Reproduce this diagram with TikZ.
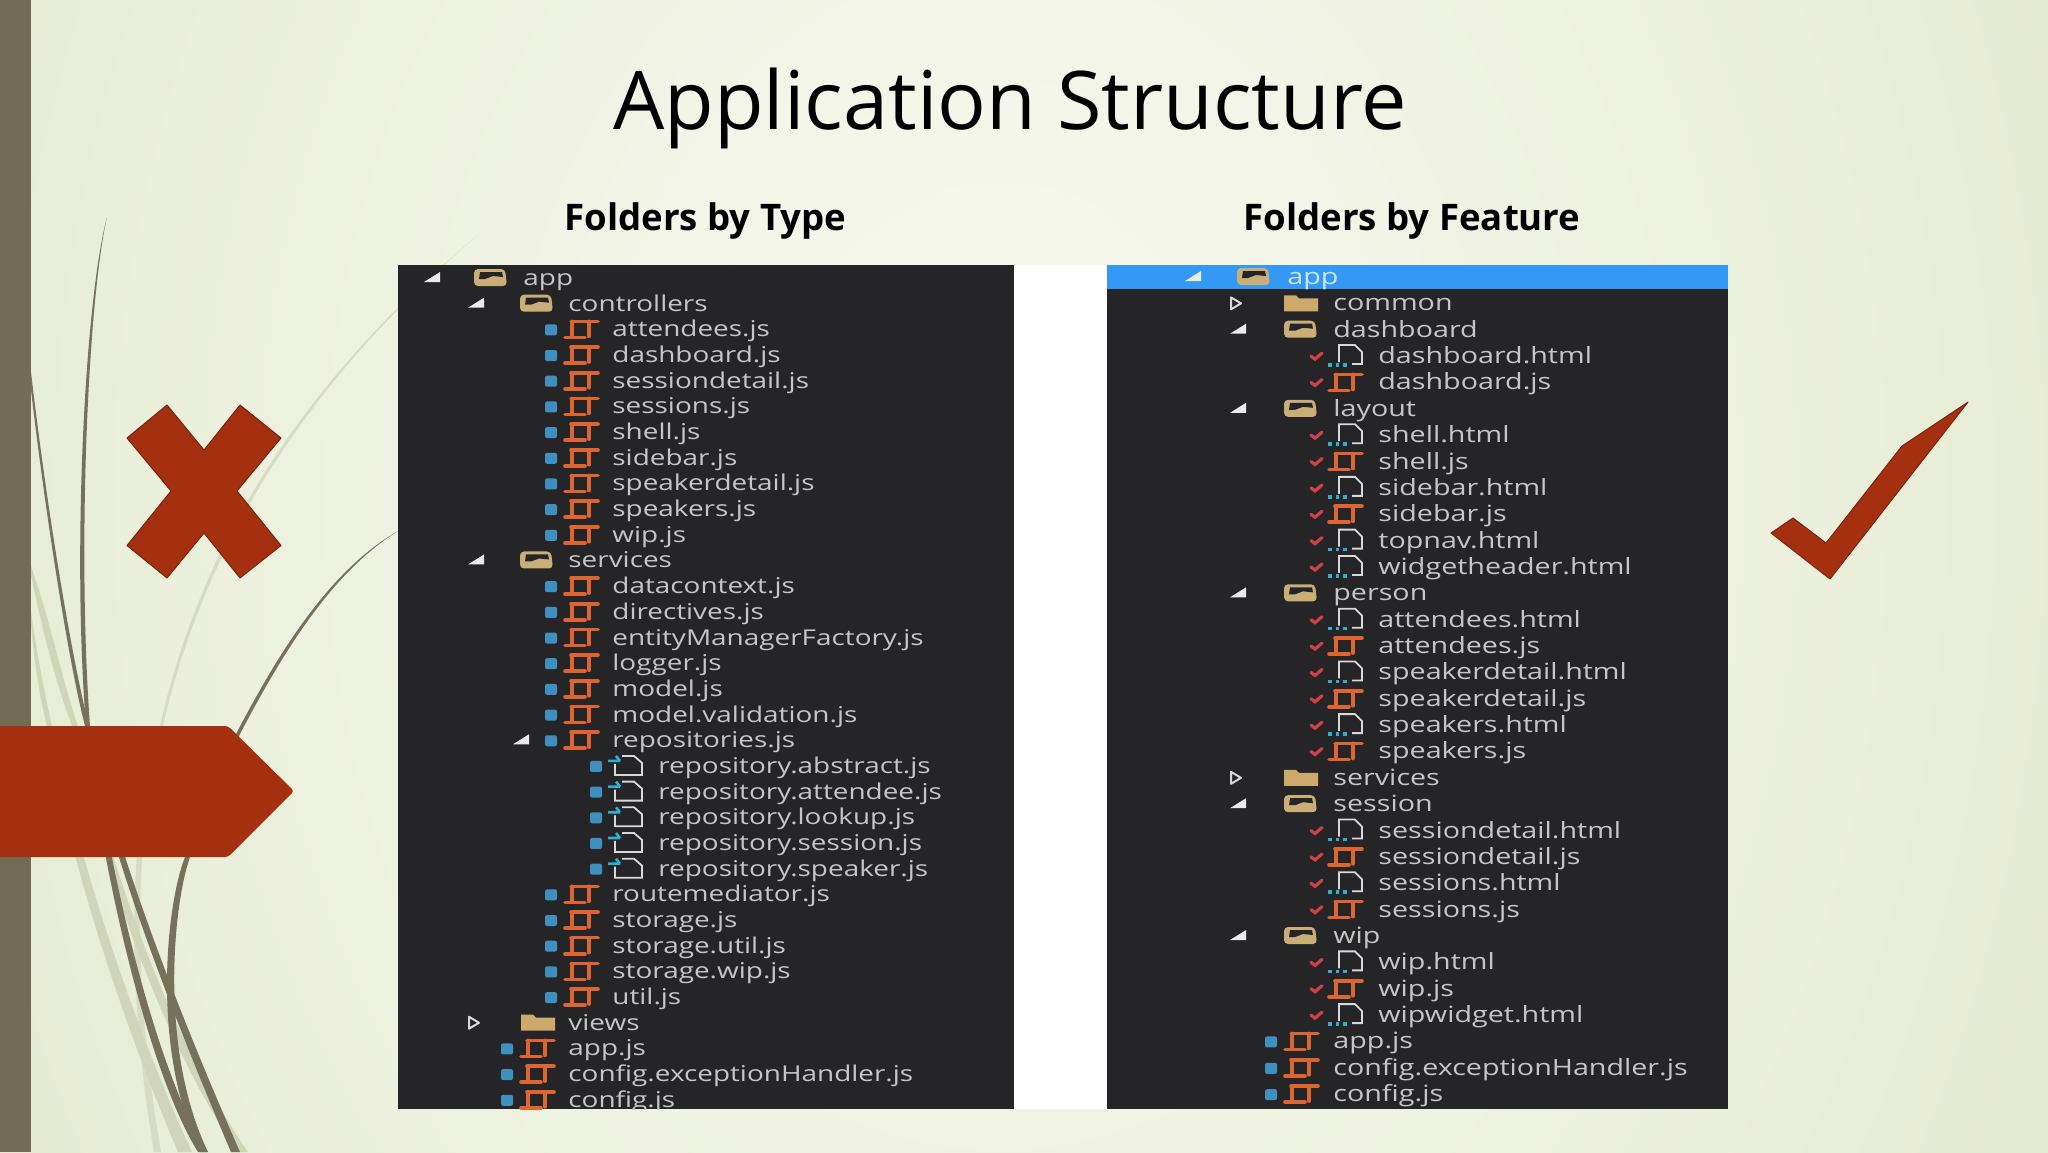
\documentclass[tikz,border=0pt]{standalone}
\usepackage{fontspec}
\setmainfont{Open Sans}
\newfontfamily\uifont[FakeStretch=1.28]{Open Sans}
\definecolor{rust}{HTML}{A53010}
\definecolor{rustdk}{HTML}{7A2410}
\definecolor{stripc}{HTML}{736C54}
\definecolor{grassd}{HTML}{767159}
\definecolor{grassl}{HTML}{D0D5B8}
\definecolor{grassf}{HTML}{D6DBC2}
\definecolor{panelc}{HTML}{252528}
\definecolor{bluebar}{HTML}{3399F5}
\definecolor{uitxt}{HTML}{C6C6C6}
\definecolor{jsor}{HTML}{DD6530}
\definecolor{tanc}{HTML}{C9AE78}
\definecolor{lockb}{HTML}{3F8FBF}
\definecolor{chk}{HTML}{D0404A}
\definecolor{bgz}{HTML}{F8FAF2}
\definecolor{bgy}{HTML}{F4F6EA}
\definecolor{bga}{HTML}{EDF1DF}
\definecolor{bgb}{HTML}{E5EBD0}
\definecolor{bgc}{HTML}{DFE6C4}
\pgfdeclareradialshading{bgshade}{\pgfpoint{0bp}{0bp}}{
 color(0bp)=(bgz);
 color(3.5bp)=(bgy);
 color(9bp)=(bga);
 color(14bp)=(bgb);
 color(19.5bp)=(bgc);
 color(50bp)=(bgc)}
\tikzset{
 uitext/.style={text=uitxt,anchor=base west,inner sep=0pt,font=\uifont\fontsize{10.9}{12}\selectfont},
 uiright/.style={text=uitxt,anchor=base west,inner sep=0pt,font=\uifont\fontsize{11.2}{12}\selectfont},
 hdr/.style={text=black,anchor=base west,inner sep=0pt,font=\bfseries\fontsize{18.3}{22}\selectfont},
 ttl/.style={text=black,anchor=base west,inner sep=0pt,font=\fontsize{40.5}{50}\selectfont},
 emblem/.style={fill=rust,draw=rustdk,line width=.5pt,line join=round}
}
\newcommand\jsico[2]{\begin{scope}[shift={(#1,#2)}]
 \draw[jsor,line width=1.8pt,line cap=round,line join=round] (-10,-8) -- (17,-8) (-9,-8) -- (-9,7) (8,-8) -- (8,7) (-16,8) -- (4,8);
 \end{scope}}
\newcommand\lockico[2]{\fill[lockb,rounded corners=1] (#1-6,#2-5) rectangle (#1+6,#2+6);}
\newcommand\openfold[2]{\begin{scope}[shift={(#1,#2)}]
 \fill[tanc,rounded corners=2] (-17,-9) -- (14,-9) -- (16,8) -- (-17,8) -- cycle;
 \fill[panelc] (-11,-6) -- (11,-6) -- (12,-1) -- (2,-2) -- (-6,1) -- (-12,1) -- cycle;
 \end{scope}}
\newcommand\shutfold[2]{\begin{scope}[shift={(#1,#2)}]
 \fill[tanc!90!orange] (-17,-8) -- (-5,-8) -- (-2,-5) -- (17,-5) -- (17,8) -- (-17,8) -- cycle;
 \end{scope}}
\newcommand\triopen[2]{\fill[white!92!black] (#1+8,#2-6) -- (#1+8,#2+4) -- (#1-8,#2+4) -- cycle;}
\newcommand\trishut[2]{\draw[white!85!black,line width=1pt,line join=round] (#1-5,#2-6) -- (#1+5,#2) -- (#1-5,#2+6) -- cycle;}
\newcommand\htmlico[2]{\begin{scope}[shift={(#1,#2)}]
 \draw[white!85!black,line width=.9pt] (-7,6) -- (-7,-11) -- (9,-11) -- (16,-4) -- (16,8) -- (6,8);
 \draw[lockb!70!cyan,line width=1.8pt,dotted] (-18,9) -- (2,9);
 \end{scope}}
\newcommand\chkico[2]{\draw[chk,line width=1.6pt,line cap=round] (#1-6,#2) -- (#1-2,#2+3) -- (#1+5,#2-3);}
\newcommand\repoico[2]{\begin{scope}[shift={(#1,#2)}]
 \draw[white!85!black,line width=.9pt] (-11,-2) -- (-11,9) -- (16,9) -- (16,-3) -- (8,-10) -- (-4,-10);
 \draw[lockb!70!cyan,line width=1.3pt] (-18,-5) -- (-6,-5) (-10,-10) -- (-6,-5);
 \end{scope}}
\begin{document}
\begin{tikzpicture}[x=.5pt,y=-.5pt]
\useasboundingbox (0,0) rectangle (2048,1152);
% background
\fill[bgc] (0,0) rectangle (2048,1152);
\begin{scope}
\clip (0,0) rectangle (2048,1152);
\shade[shading=bgshade] (1000,500) ellipse [x radius=2000,y radius=2600];
\end{scope}
% grass, light blades
\fill[grassf] (478,235) .. controls (370,325) and (215,480) .. (160,726) .. controls (135,800) and (120,950) .. (154,1152) -- (161,1152) .. controls (126,950) and (141,800) .. (163,726) .. controls (219,482) and (372,326) .. (478,235) -- cycle;
\fill[grassl] (31,576) .. controls (45,640) and (55,680) .. (72,726) .. controls (100,860) and (160,1040) .. (238,1152) -- (248,1152) .. controls (168,1036) and (108,860) .. (78,726) .. controls (62,680) and (50,620) .. (31,566) -- cycle;
\fill[grassl] (31,625) .. controls (34,660) and (40,700) .. (47,726) .. controls (70,870) and (130,1040) .. (178,1152) -- (192,1152) .. controls (140,1040) and (80,870) .. (52,726) .. controls (46,700) and (38,660) .. (31,612) -- cycle;
% grass, dark blades
\fill[grassd] (107,217) .. controls (85,300) and (72,550) .. (86,726) .. controls (103,880) and (150,1075) .. (198,1152) -- (207,1152) .. controls (157,1072) and (110,880) .. (90,726) .. controls (77,550) and (88,300) .. (107,217) -- cycle;
\fill[grassd] (31,390) .. controls (45,510) and (68,660) .. (85,726) .. controls (106,840) and (166,1000) .. (231,1152) -- (240,1152) .. controls (173,1000) and (113,840) .. (89,726) .. controls (72,660) and (47,510) .. (31,372) -- cycle;
\fill[grassd] (398,531) .. controls (330,570) and (280,650) .. (236,734) .. controls (215,780) and (198,820) .. (185,857) .. controls (166,905) and (151,1050) .. (200,1152) -- (208,1152) .. controls (159,1050) and (173,905) .. (190,857) .. controls (203,820) and (219,780) .. (240,734) .. controls (283,652) and (332,572) .. (398,531) -- cycle;
% strip
\fill[stripc] (0,0) rectangle (31,1152);
% title
\node[ttl] (title) at (613,129) {Application Structure};
\node[hdr] (hA) at (564,230) {Folders by Type};
\node[hdr] (hB) at (1243,230) {Folders by Feature};
% panels
\fill[white] (1014,265) rectangle (1107,1109);
\fill[panelc] (398,265) rectangle (1014,1109);
\fill[panelc] (1107,265) rectangle (1728,1109);
\fill[bluebar] (1107,265) rectangle (1728,289);
% left tree
\begin{scope}
\clip (398,265) rectangle (1014,1109);
\pgfmathsetmacro\yy{278}
\triopen{432}{\yy}\openfold{491}{\yy}\node[uitext] (la) at (523,\yy+7.5) {app};
\foreach \rw/\tx in {1/controllers,11/services}{
 \pgfmathsetmacro\yy{278+25.68*\rw}
 \triopen{476}{\yy}\openfold{537}{\yy}\node[uitext] (l\rw) at (568,\yy+7.5) {\tx};}
\pgfmathsetmacro\yy{278+25.68*29}
\trishut{474}{\yy}\shutfold{538}{\yy}\node[uitext] (l29) at (568,\yy+7.5) {views};
\foreach \rw/\tx in {2/attendees.js,3/dashboard.js,4/sessiondetail.js,5/sessions.js,6/shell.js,7/sidebar.js,8/speakerdetail.js,9/speakers.js,10/wip.js,12/datacontext.js,13/directives.js,14/entityManagerFactory.js,15/logger.js,16/model.js,17/model.validation.js,18/repositories.js,24/routemediator.js,25/storage.js,26/storage.util.js,27/storage.wip.js,28/util.js}{
 \pgfmathsetmacro\yy{278+25.68*\rw}
 \lockico{551}{\yy}\jsico{581}{\yy}\node[uitext] (l\rw) at (612,\yy+7.5) {\tx};}
\pgfmathsetmacro\yy{278+25.68*18}
\triopen{521}{\yy}
\foreach \rw/\tx in {19/repository.abstract.js,20/repository.attendee.js,21/repository.lookup.js,22/repository.session.js,23/repository.speaker.js}{
 \pgfmathsetmacro\yy{278+25.68*\rw}
 \lockico{596}{\yy}\repoico{626}{\yy}\node[uitext] (l\rw) at (658,\yy+7.5) {\tx};}
\foreach \rw/\tx in {30/app.js,31/config.exceptionHandler.js,32/config.js}{
 \pgfmathsetmacro\yy{278+25.68*\rw}
 \lockico{507}{\yy}\jsico{537}{\yy}\node[uitext] (l\rw) at (568,\yy+7.5) {\tx};}
\end{scope}
% right tree
\begin{scope}
\clip (1107,265) rectangle (1728,1109);
\pgfmathsetmacro\yy{277}
\triopen{1193}{\yy}\openfold{1254}{\yy}\node[uiright,text=white!75!bluebar] (ra) at (1287,\yy+7.5) {app};
\foreach \rw/\tx in {2/dashboard,5/layout,12/person,20/session,25/wip}{
 \pgfmathsetmacro\yy{277+26.36*\rw}
 \triopen{1238}{\yy}\openfold{1301}{\yy}\node[uiright] (r\rw) at (1333,\yy+7.5) {\tx};}
\foreach \rw/\tx in {1/common,19/services}{
 \pgfmathsetmacro\yy{277+26.36*\rw}
 \trishut{1236}{\yy}\shutfold{1301}{\yy}\node[uiright] (r\rw) at (1333,\yy+7.5) {\tx};}
\foreach \rw/\tx in {3/dashboard.html,6/shell.html,8/sidebar.html,10/topnav.html,11/widgetheader.html,13/attendees.html,15/speakerdetail.html,17/speakers.html,21/sessiondetail.html,23/sessions.html,26/wip.html,28/wipwidget.html}{
 \pgfmathsetmacro\yy{277+26.36*\rw}
 \chkico{1317}{\yy}\htmlico{1346}{\yy}\node[uiright] (r\rw) at (1378,\yy+7.5) {\tx};}
\foreach \rw/\tx in {4/dashboard.js,7/shell.js,9/sidebar.js,14/attendees.js,16/speakerdetail.js,18/speakers.js,22/sessiondetail.js,24/sessions.js,27/wip.js}{
 \pgfmathsetmacro\yy{277+26.36*\rw}
 \chkico{1317}{\yy}\jsico{1345}{\yy}\node[uiright] (r\rw) at (1378,\yy+7.5) {\tx};}
\foreach \rw/\tx in {29/app.js,30/config.exceptionHandler.js,31/config.js}{
 \pgfmathsetmacro\yy{277+26.36*\rw}
 \lockico{1271}{\yy}\jsico{1301}{\yy}\node[uiright] (r\rw) at (1333,\yy+7.5) {\tx};}
\end{scope}
% arrow pentagon
\fill[rust,rounded corners=1.5] (-10,726) -- (228,726) -- (294,791) -- (228,857) -- (-10,857) -- cycle;
% cross
\path[emblem] (127,438) -- (167,405) -- (204,450) -- (240,405) -- (281,438) -- (237,491) -- (281,545.5) -- (240,578) -- (204,533) -- (167,578) -- (127,545.5) -- (171,491) -- cycle;
% check
\path[emblem] (1771,533) -- (1793,518) -- (1826,543) -- (1902,446) -- (1968,402) -- (1830,579) -- cycle;
\end{tikzpicture}
\end{document}
